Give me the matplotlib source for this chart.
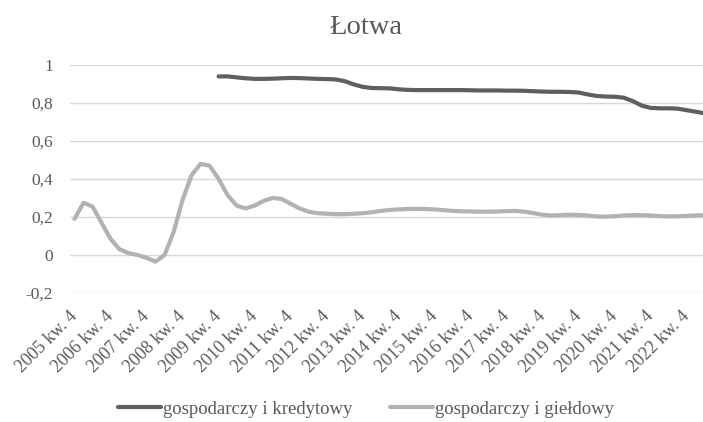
import matplotlib
matplotlib.use("Agg")
import matplotlib.pyplot as plt
import numpy as np

plt.rcParams['font.family'] = ['Liberation Serif', 'DejaVu Serif']

# Quarterly series, 2005 kw. 4 onwards
start_year = 2005
n_quarters = 71

kredytowy_start = 16  # series begins in 2009 kw. 4
kredytowy = [
    0.940, 0.940, 0.935, 0.930, 0.927, 0.927, 0.928, 0.930, 0.932, 0.931,
    0.929, 0.927, 0.926, 0.924, 0.915, 0.898, 0.885, 0.879, 0.878, 0.877,
    0.872, 0.869, 0.868, 0.868, 0.868, 0.868, 0.868, 0.868, 0.867, 0.866,
    0.866, 0.866, 0.865, 0.865, 0.864, 0.862, 0.860, 0.859, 0.859, 0.858,
    0.855, 0.845, 0.837, 0.834, 0.833, 0.828, 0.810, 0.786, 0.774, 0.772,
    0.772, 0.770, 0.762, 0.754, 0.745,
]

gieldowy = [
    0.190, 0.275, 0.255, 0.170, 0.085, 0.030, 0.010, 0.000, -0.015, -0.035,
    0.000, 0.120, 0.290, 0.420, 0.480, 0.470, 0.400, 0.315, 0.260, 0.245,
    0.260, 0.285, 0.300, 0.295, 0.270, 0.245, 0.228, 0.220, 0.217, 0.215,
    0.215, 0.217, 0.220, 0.225, 0.232, 0.237, 0.240, 0.242, 0.243, 0.242,
    0.240, 0.236, 0.232, 0.230, 0.229, 0.228, 0.228, 0.229, 0.231, 0.232,
    0.228, 0.220, 0.212, 0.208, 0.210, 0.212, 0.211, 0.208, 0.203, 0.202,
    0.204, 0.208, 0.210, 0.210, 0.208, 0.205, 0.203, 0.204, 0.206, 0.208,
    0.210,
]

y_ticks = [-0.2, 0.0, 0.2, 0.4, 0.6, 0.8, 1.0]
y_tick_labels = ["-0,2", "0", "0,2", "0,4", "0,6", "0,8", "1"]

# Axis labels every fourth quarter (each Q4)
x_tick_pos = list(range(0, n_quarters - 2, 4))
x_tick_labels = [f"{start_year + i // 4} kw. 4" for i in x_tick_pos]

dark = "#5f5f5f"
light = "#b2b2b2"
text_col = "#595959"

fig = plt.figure(figsize=(7.03, 4.22), dpi=100)
ax = fig.add_axes([70 / 703, 1 - 293 / 422, 1 - 70 / 703 + 0.002, (293 - 65) / 422])

x_all = np.arange(n_quarters)
x_k = np.arange(kredytowy_start, kredytowy_start + len(kredytowy))

ax.plot(x_k, kredytowy, color=dark, lw=3.0, solid_joinstyle='round',
        solid_capstyle='round', label="gospodarczy i kredytowy", zorder=3)
ax.plot(x_all, gieldowy, color=light, lw=3.0, solid_joinstyle='round',
        solid_capstyle='round', label="gospodarczy i giełdowy", zorder=3)

ax.set_ylim(-0.2, 1.0)
ax.set_xlim(-0.5, 69.95)
ax.set_yticks(y_ticks)
ax.set_yticklabels(y_tick_labels, fontsize=12.5)
ax.set_xticks(x_tick_pos)
ax.set_xticklabels(x_tick_labels, rotation=45, ha='right', va='center',
                   rotation_mode='anchor', fontsize=13)

ax.grid(axis='y', color="#d9d9d9", lw=1.0)
ax.set_axisbelow(True)
for s in ax.spines.values():
    s.set_visible(False)
ax.tick_params(axis='both', length=0, colors=text_col)
ax.tick_params(axis='y', pad=12)
ax.tick_params(axis='x', pad=15)

fig.text(366 / 703, 1 - 28 / 422, "Łotwa", ha='center', va='center',
         fontsize=20.5, color=text_col)

leg = fig.legend(loc='center', bbox_to_anchor=(366 / 703, 1 - 409 / 422), ncol=2,
                 frameon=False, fontsize=13.5, handlelength=2.3,
                 handletextpad=0.1, columnspacing=2.0)
for t in leg.get_texts():
    t.set_color(text_col)

fig.savefig("out.png", dpi=100)
